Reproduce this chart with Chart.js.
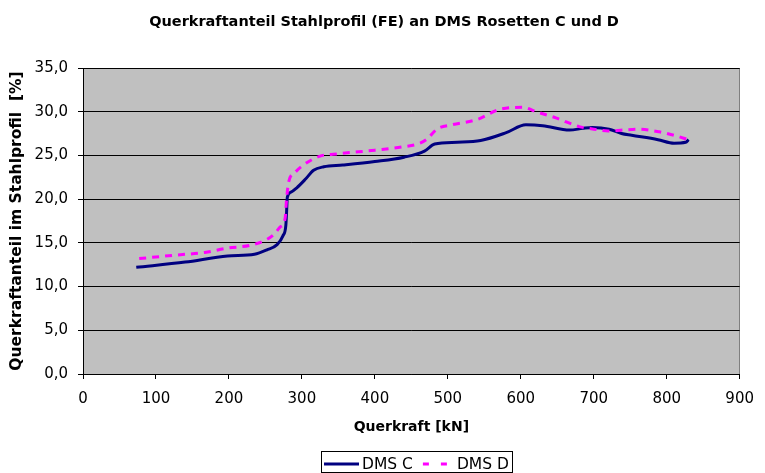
<!DOCTYPE html>
<html>
<head>
<meta charset="utf-8">
<script src="https://cdn.jsdelivr.net/npm/chart.js@4/dist/chart.umd.min.js"></script>
<style>
  html, body { margin: 0; padding: 0; background: #fff; }
</style>
</head>
<body>
<canvas id="chart" width="765" height="473"></canvas>
<script>
// DMS C: Querkraft [kN] / Anteil [%]
const kraftC = [73, 140, 198, 235, 252, 266, 274, 278, 279, 280, 285, 293, 305, 316, 330, 356, 400, 440, 468, 482, 513, 545, 580, 607, 630, 667, 685, 698, 721, 738, 752, 788, 810, 826, 830];
const anteilC = [12.2, 12.8, 13.5, 13.7, 14.2, 14.8, 15.8, 17.0, 18.5, 20.2, 20.8, 21.3, 22.3, 23.3, 23.7, 23.9, 24.3, 24.8, 25.5, 26.3, 26.5, 26.7, 27.6, 28.5, 28.4, 27.9, 28.1, 28.2, 28.0, 27.5, 27.3, 26.8, 26.4, 26.5, 26.8];

// DMS D
const kraftD = [77, 127, 167, 198, 228, 250, 262, 270, 277, 279, 282, 290, 302, 324, 351, 400, 440, 462, 472, 485, 505, 540, 572, 603, 621, 648, 680, 700, 720, 740, 761, 790, 810, 830];
const anteilD = [13.2, 13.6, 13.9, 14.4, 14.7, 15.3, 16.0, 16.8, 17.8, 20.0, 22.0, 23.0, 23.9, 24.9, 25.2, 25.6, 26.0, 26.4, 26.9, 28.0, 28.5, 29.1, 30.3, 30.5, 30.0, 29.3, 28.3, 28.0, 27.8, 27.9, 28.0, 27.7, 27.3, 26.8];

const xTicks = [0, 100, 200, 300, 400, 500, 600, 700, 800, 900];
const yTicks = [0, 5, 10, 15, 20, 25, 30, 35];

const seriesNames = ['DMS C', 'DMS D'];
const seriesColors = ['#000080', '#ff00ff'];

Chart.defaults.font.family = "'DejaVu Sans', sans-serif";
Chart.defaults.font.size = 15;
Chart.defaults.color = '#000';

// grey plot area with a grey frame, like the Excel original
const plotBg = {
    id: 'plotBg',
    beforeDraw(chart) {
        const { ctx, chartArea: a } = chart;
        ctx.save();
        ctx.fillStyle = '#c0c0c0';
        ctx.fillRect(a.left, a.top, a.right - a.left, a.bottom - a.top);
        ctx.strokeStyle = '#808080';
        ctx.lineWidth = 1;
        ctx.beginPath();
        ctx.moveTo(Math.round(a.right) - 0.5, a.top);
        ctx.lineTo(Math.round(a.right) - 0.5, a.bottom);
        ctx.stroke();
        ctx.restore();
    }
};

// legend in a framed box under the axis title
const legendBox = {
    id: 'legendBox',
    afterDraw(chart) {
        const ctx = chart.ctx;
        const cy = 464;
        const sampleW = [35, 26];
        ctx.save();
        ctx.font = "15.5px 'DejaVu Sans', sans-serif";
        ctx.textBaseline = 'middle';
        const textW = seriesNames.map(n => ctx.measureText(n).width);
        const total = sampleW[0] + 3 + textW[0] + 10 + sampleW[1] + 8 + textW[1];
        const boxL = Math.round(416 - total / 2 - 3);
        const boxW = Math.round(total + 6);
        ctx.strokeStyle = '#000';
        ctx.lineWidth = 1;
        ctx.strokeRect(boxL + 0.5, 451.5, boxW, 21);

        let x = boxL + 3;
        chart.data.datasets.forEach((ds, i) => {
            ctx.strokeStyle = ds.borderColor;
            ctx.lineWidth = ds.borderWidth;
            ctx.setLineDash(i === 1 ? [6, 12] : []);
            ctx.beginPath();
            ctx.moveTo(x, cy);
            ctx.lineTo(x + sampleW[i], cy);
            ctx.stroke();
            ctx.setLineDash([]);
            x += sampleW[i] + (i === 0 ? 3 : 8);
            ctx.fillStyle = '#000';
            ctx.fillText(ds.label, x, cy + 1);
            x += textW[i] + 10;
        });
        ctx.restore();
    }
};

new Chart(document.getElementById('chart'), {
    type: 'line',
    data: {
        datasets: [{
            label: seriesNames[0],
            data: kraftC.map((x, i) => ({ x: x, y: anteilC[i] })),
            borderColor: seriesColors[0],
            borderWidth: 3,
            pointRadius: 0,
            cubicInterpolationMode: 'monotone',
            fill: false,
            order: 1
        }, {
            label: seriesNames[1],
            data: kraftD.map((x, i) => ({ x: x, y: anteilD[i] })),
            borderColor: seriesColors[1],
            borderWidth: 3,
            borderDash: [7, 6],
            pointRadius: 0,
            cubicInterpolationMode: 'monotone',
            fill: false,
            order: 0
        }]
    },
    options: {
        responsive: false,
        animation: false,
        devicePixelRatio: 1,
        layout: { padding: { left: 18, right: 15, top: 0, bottom: 37 } },
        plugins: {
            legend: { display: false },
            tooltip: { enabled: false },
            title: {
                display: true,
                text: 'Querkraftanteil Stahlprofil (FE) an DMS Rosetten C und D',
                font: { size: 14.5, weight: 'bold' },
                padding: { top: 14, bottom: 36.6 }
            }
        },
        scales: {
            x: {
                type: 'linear',
                min: 0,
                max: 900,
                afterBuildTicks: s => { s.ticks = xTicks.map(v => ({ value: v })); },
                afterFit: s => { s.height = 62; },
                ticks: { padding: 11, maxRotation: 0 },
                grid: { drawOnChartArea: false, tickLength: 5, color: '#000', tickColor: '#000' },
                border: { color: '#000', width: 1 },
                title: {
                    display: true,
                    text: 'Querkraft [kN]',
                    font: { size: 14, weight: 'bold' },
                    padding: { top: 0, bottom: 0 }
                }
            },
            y: {
                min: 0,
                max: 35,
                afterBuildTicks: s => { s.ticks = yTicks.map(v => ({ value: v })); },
                afterFit: s => { s.width = 65; },
                ticks: {
                    padding: 10,
                    callback: v => v.toFixed(1).replace('.', ',')
                },
                grid: { color: '#000', tickLength: 5, tickColor: '#000' },
                border: { color: '#000', width: 1 },
                title: {
                    display: true,
                    text: 'Querkraftanteil im Stahlprofil  [%]',
                    font: { size: 15.5, weight: 'bold' },
                    padding: { top: -10, bottom: 0 }
                }
            }
        }
    },
    plugins: [plotBg, legendBox]
});
</script>
</body>
</html>
